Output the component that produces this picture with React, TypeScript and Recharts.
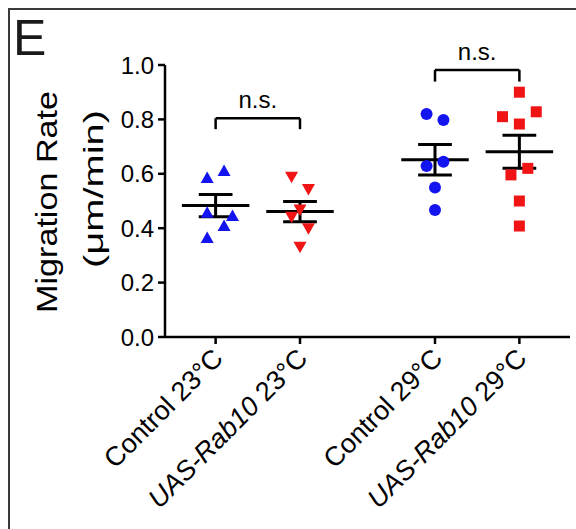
import { ScatterChart, Scatter, XAxis, YAxis, ReferenceLine } from 'recharts';

const FONT = '"Liberation Sans", Arial, Helvetica, sans-serif';
const BLUE = '#1414f0';
const RED = '#f01414';

// groups on the x axis (gap between the 23°C and 29°C pairs)
const groupPos = [1, 2, 3.6, 4.6];
const groupNames = ['Control', 'UAS-Rab10', 'Control', 'UAS-Rab10'];
const groupTemps = ['23°C', '23°C', '29°C', '29°C'];
const groupItalic = [false, true, false, true];

// migration rate (µm/min) per animal, with horizontal jitter in axis units
const control23 = [0.61, 0.585, 0.457, 0.445, 0.408, 0.364];
const control23Jitter = [0.1, -0.1, -0.1, 0.2, 0.1, -0.1];
const rab23 = [0.589, 0.544, 0.469, 0.442, 0.4, 0.332];
const rab23Jitter = [-0.1, 0.1, 0, -0.1, 0.1, 0];
const control29 = [0.82, 0.798, 0.644, 0.629, 0.55, 0.467];
const control29Jitter = [-0.1, 0.1, 0.1, -0.1, 0, 0];
const rab29 = [0.9, 0.828, 0.81, 0.783, 0.62, 0.596, 0.5, 0.408];
const rab29Jitter = [0, 0.2, -0.2, 0, 0.1, -0.1, 0, 0];

// mean ± SEM as drawn
const means = [0.483, 0.461, 0.652, 0.681];
const sems = [0.041, 0.037, 0.056, 0.061];

// significance brackets
const bracketFrom = [1, 3.6];
const bracketTo = [2, 4.6];
const bracketTop = [0.804, 0.982];
const bracketLeg = [0.764, 0.939];
const bracketText = ['n.s.', 'n.s.'];

const yTicks = [0, 0.2, 0.4, 0.6, 0.8, 1.0];

const toPoints = (vals: number[], jit: number[], g: number) =>
  vals.map((v, i) => ({ x: groupPos[g] + jit[i], y: v }));

const TriUp = (p: any) => (
  <polygon
    points={`${p.cx},${p.cy - 6.5} ${p.cx + 6.5},${p.cy + 5} ${p.cx - 6.5},${p.cy + 5}`}
    fill={BLUE}
  />
);
const TriDown = (p: any) => (
  <polygon
    points={`${p.cx - 6.5},${p.cy - 5} ${p.cx + 6.5},${p.cy - 5} ${p.cx},${p.cy + 6.5}`}
    fill={RED}
  />
);
const Dot = (p: any) => <circle cx={p.cx} cy={p.cy} r={6} fill={BLUE} />;
const Square = (p: any) => <rect x={p.cx - 5.5} y={p.cy - 5.5} width={11} height={11} fill={RED} />;

const XTick = (props: any) => {
  const { x, y, payload } = props;
  const i = groupPos.indexOf(payload.value);
  return (
    <g transform={`translate(${x + 9},${y + 14})`}>
      <text transform="rotate(-45)" textAnchor="end" fontSize={27} fontFamily={FONT} fill="#000">
        <tspan fontStyle={groupItalic[i] ? 'italic' : 'normal'}>{groupNames[i]}</tspan>
        <tspan>{' ' + groupTemps[i]}</tspan>
      </text>
    </g>
  );
};

export default function App() {
  const axisStyle = { stroke: '#000', strokeWidth: 2.5 };
  return (
    <div style={{ position: 'relative', width: 576, height: 529, background: '#fff', overflow: 'hidden' }}>
      <style>{`body{margin:0}`}</style>
      <ScatterChart width={576} height={529} margin={{ top: 65, right: 6, bottom: 0, left: 0 }}>
        <XAxis
          type="number"
          dataKey="x"
          domain={[0.4, 5.2]}
          ticks={groupPos}
          height={192}
          tickSize={7}
          tickMargin={2}
          axisLine={axisStyle}
          tickLine={axisStyle}
          tick={<XTick />}
          interval={0}
        />
        <YAxis
          type="number"
          dataKey="y"
          domain={[0, 1]}
          ticks={yTicks}
          width={165}
          tickSize={7}
          tickMargin={4}
          axisLine={axisStyle}
          tickLine={axisStyle}
          tickFormatter={(v: number) => v.toFixed(1)}
          tick={{ fill: '#000', fontSize: 24, fontFamily: FONT }}
          interval={0}
        />
        <Scatter data={toPoints(control23, control23Jitter, 0)} shape={TriUp} isAnimationActive={false} />
        <Scatter data={toPoints(rab23, rab23Jitter, 1)} shape={TriDown} isAnimationActive={false} />
        <Scatter data={toPoints(control29, control29Jitter, 2)} shape={Dot} isAnimationActive={false} />
        <Scatter data={toPoints(rab29, rab29Jitter, 3)} shape={Square} isAnimationActive={false} />
        {groupPos.map((gx, i) => (
          <ReferenceLine
            key={`m${i}`}
            segment={[{ x: gx - 0.4, y: means[i] }, { x: gx + 0.4, y: means[i] }]}
            stroke="#000"
            strokeWidth={3}
          />
        ))}
        {groupPos.map((gx, i) => (
          <ReferenceLine
            key={`v${i}`}
            segment={[{ x: gx, y: means[i] - sems[i] }, { x: gx, y: means[i] + sems[i] }]}
            stroke="#000"
            strokeWidth={3}
          />
        ))}
        {groupPos.map((gx, i) => (
          <ReferenceLine
            key={`hi${i}`}
            segment={[{ x: gx - 0.2, y: means[i] + sems[i] }, { x: gx + 0.2, y: means[i] + sems[i] }]}
            stroke="#000"
            strokeWidth={3}
          />
        ))}
        {groupPos.map((gx, i) => (
          <ReferenceLine
            key={`lo${i}`}
            segment={[{ x: gx - 0.2, y: means[i] - sems[i] }, { x: gx + 0.2, y: means[i] - sems[i] }]}
            stroke="#000"
            strokeWidth={3}
          />
        ))}
        {bracketFrom.map((bx, i) => (
          <ReferenceLine
            key={`b${i}`}
            segment={[
              { x: bx, y: bracketLeg[i] },
              { x: bx, y: bracketTop[i] },
            ]}
            stroke="#000"
            strokeWidth={2.5}
          />
        ))}
        {bracketTo.map((bx, i) => (
          <ReferenceLine
            key={`c${i}`}
            segment={[
              { x: bx, y: bracketLeg[i] },
              { x: bx, y: bracketTop[i] },
            ]}
            stroke="#000"
            strokeWidth={2.5}
          />
        ))}
        {bracketFrom.map((bx, i) => (
          <ReferenceLine
            key={`t${i}`}
            segment={[
              { x: bx, y: bracketTop[i] },
              { x: bracketTo[i], y: bracketTop[i] },
            ]}
            stroke="#000"
            strokeWidth={2.5}
            label={{ value: bracketText[i], position: 'top', offset: 10, fill: '#000', fontSize: 24, fontFamily: FONT }}
          />
        ))}
      </ScatterChart>
      <svg
        width={576}
        height={529}
        style={{ position: 'absolute', left: 0, top: 0, pointerEvents: 'none' }}
      >
        <path d="M9,529 L9,9 L576,9" fill="none" stroke="#3a3a3a" strokeWidth={2} />
        <text x={13} y={55} fontSize={50} fontFamily={FONT} fill="#1a1a1a">
          E
        </text>
        <text
          transform="translate(57,202) rotate(-90)"
          textAnchor="middle"
          fontSize={30}
          fontFamily={FONT}
          fill="#000"
          textLength={222}
          lengthAdjust="spacingAndGlyphs"
        >
          Migration Rate
        </text>
        <text
          transform="translate(103,189) rotate(-90)"
          textAnchor="middle"
          fontSize={27}
          fontFamily={FONT}
          fill="#000"
          textLength={158}
          lengthAdjust="spacingAndGlyphs"
        >
          (μm/min)
        </text>
      </svg>
    </div>
  );
}
